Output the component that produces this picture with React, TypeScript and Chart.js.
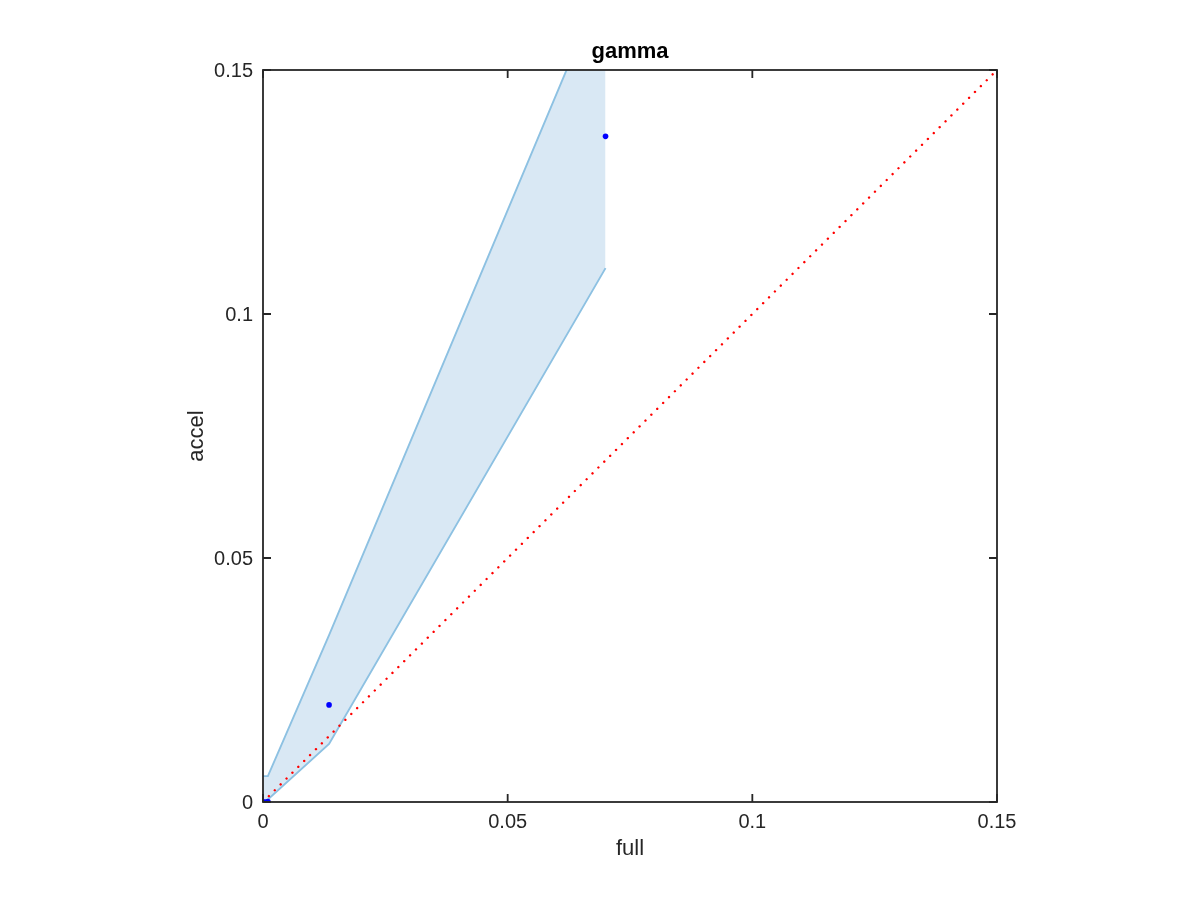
import React, { useEffect, useRef } from "react";
import { Chart, registerables } from "chart.js";

Chart.register(...registerables);

// ---- data ----
const bandX = [0, 0.001, 0.0135, 0.07];
const bandUpper = [0.0053, 0.0053, 0.0342, 0.169];
const bandLower = [0, 0.0005, 0.0119, 0.1094];
const pointX = [0, 0.0004, 0.001, 0.0135, 0.07];
const pointY = [0, 0, 0.0001, 0.0199, 0.1364];
const refX = [0, 0.15];
const refY = [0, 0.15];
const xTicks = [0, 0.05, 0.1, 0.15];
const xTickLabels = ["0", "0.05", "0.1", "0.15"];
const yTicks = [0, 0.05, 0.1, 0.15];
const yTickLabels = ["0", "0.05", "0.1", "0.15"];
const titleText = "gamma";
const xLabel = "full";
const yLabel = "accel";

const FONT = '"Liberation Sans", Arial, Helvetica, sans-serif';

const axesPlugin = {
  id: "matlabAxes",
  afterDraw(chart: any) {
    const ctx = chart.ctx;
    const xs = chart.scales.x;
    const ys = chart.scales.y;
    const { left, right, top, bottom } = chart.chartArea;
    ctx.save();
    ctx.strokeStyle = "#262626";
    ctx.lineWidth = 1.8;
    ctx.strokeRect(left, top, right - left, bottom - top);
    const tl = 8;
    ctx.beginPath();
    xTicks.forEach((v) => {
      const px = xs.getPixelForValue(v);
      ctx.moveTo(px, bottom);
      ctx.lineTo(px, bottom - tl);
      ctx.moveTo(px, top);
      ctx.lineTo(px, top + tl);
    });
    yTicks.forEach((v) => {
      const py = ys.getPixelForValue(v);
      ctx.moveTo(left, py);
      ctx.lineTo(left + tl, py);
      ctx.moveTo(right, py);
      ctx.lineTo(right - tl, py);
    });
    ctx.stroke();

    ctx.fillStyle = "#262626";
    ctx.font = "20px " + FONT;
    ctx.textBaseline = "alphabetic";
    ctx.textAlign = "center";
    xTicks.forEach((v, i) => {
      ctx.fillText(xTickLabels[i], xs.getPixelForValue(v), bottom + 26);
    });
    ctx.textAlign = "right";
    yTicks.forEach((v, i) => {
      ctx.fillText(yTickLabels[i], left - 10, ys.getPixelForValue(v) + 7);
    });
    ctx.font = "22px " + FONT;
    ctx.textAlign = "center";
    ctx.fillText(xLabel, (left + right) / 2, bottom + 53);
    ctx.save();
    ctx.translate(left - 60, (top + bottom) / 2);
    ctx.rotate(-Math.PI / 2);
    ctx.fillText(yLabel, 0, 0);
    ctx.restore();
    ctx.fillStyle = "#000";
    ctx.font = "bold 22px " + FONT;
    ctx.fillText(titleText, (left + right) / 2, top - 12);
    ctx.restore();
  },
};

export default function App() {
  const ref = useRef<HTMLCanvasElement | null>(null);
  useEffect(() => {
    if (!ref.current) return;
    const chart = new Chart(ref.current, {
      type: "line",
      data: {
        datasets: [
          {
            label: "upper",
            data: bandX.map((x, i) => ({ x, y: bandUpper[i] })),
            borderColor: "#8dc1e2",
            borderWidth: 1.9,
            backgroundColor: "#d9e8f4",
            pointRadius: 0,
            fill: "+1",
            tension: 0,
            order: 4,
          },
          {
            label: "lower",
            data: bandX.map((x, i) => ({ x, y: bandLower[i] })),
            borderColor: "#8dc1e2",
            borderWidth: 1.9,
            pointRadius: 0,
            fill: false,
            tension: 0,
            order: 3,
          },
          {
            label: "ref",
            data: refX.map((x, i) => ({ x, y: refY[i] })),
            borderColor: "#ff0000",
            backgroundColor: "#ff0000",
            borderWidth: 2.4,
            borderDash: [0.01, 8.3],
            borderCapStyle: "round",
            pointRadius: 0,
            fill: false,
            order: 2,
          },
          {
            label: "points",
            data: pointX.map((x, i) => ({ x, y: pointY[i] })),
            showLine: false,
            pointRadius: 2.8,
            pointBorderWidth: 0,
            pointBackgroundColor: "#0000ff",
            borderColor: "#0000ff",
            fill: false,
            order: 1,
          },
        ],
      },
      options: {
        animation: false,
        responsive: false,
        maintainAspectRatio: false,
        layout: { padding: { left: 263, right: 203, top: 70, bottom: 98 } },
        plugins: { legend: { display: false }, tooltip: { enabled: false }, title: { display: false } },
        scales: {
          x: { type: "linear", min: 0, max: 0.15, display: false },
          y: { type: "linear", min: 0, max: 0.15, display: false },
        },
      },
      plugins: [axesPlugin],
    });
    return () => chart.destroy();
  }, []);
  return (
    <div style={{ position: "absolute", left: 0, top: 0, width: 1200, height: 900, background: "#fff" }}>
      <canvas ref={ref} width={1200} height={900} style={{ width: 1200, height: 900 }} />
    </div>
  );
}
